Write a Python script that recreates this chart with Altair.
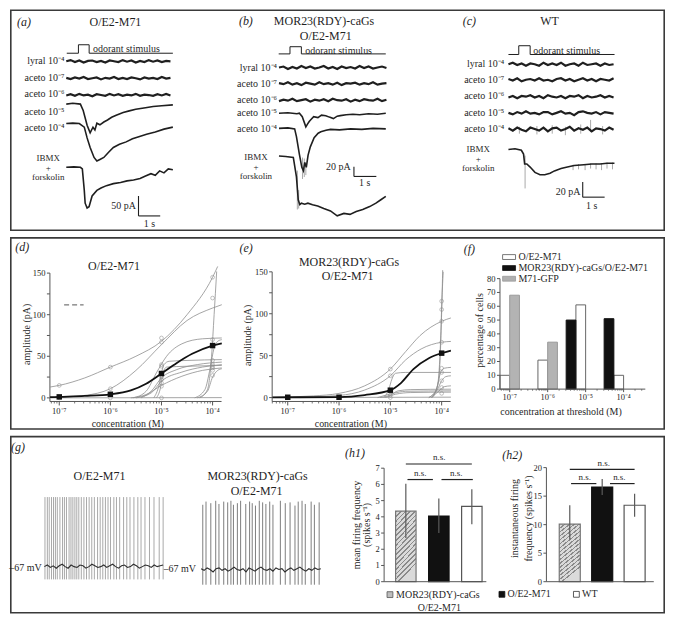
import math
import altair as alt
import pandas as pd

FONT = "Liberation Serif"
INK = "#1f1f1f"
CURVE = "#8e8e8e"
AXC = "#555555"
TICK_FONT = 8.5

# ---------------- values ----------------
TRACE_LABELS = ["lyral 10⁻⁴", "aceto 10⁻⁷", "aceto 10⁻⁶", "aceto 10⁻⁵", "aceto 10⁻⁴"]
DECADES = [-7, -6, -5, -4]
DECADE_LABELS = ["10⁻⁷", "10⁻⁶", "10⁻⁵", "10⁻⁴"]
AMP_TICKS = [0, 25, 50, 75, 100, 125, 150]
AMP_LABELS = [0, 50, 100, 150]

FLAT_T = [0.0, 0.2, 0.4, 0.6, 0.8, 1.0, 1.2, 1.4, 1.6, 1.8, 2.0, 2.2, 2.4, 2.6,
          2.8, 3.0, 3.2, 3.4, 3.6, 3.8, 4.0, 4.2, 4.4, 4.6, 4.8]
A_LYRAL = [0, 3, -2, 2, -3, 1, 2, -2, 1, -3, 2, 0, -2, 3, -1, 2, -3, 1, -2, 3, -1, 2, -2, 1, 0]
A_ACETO7 = [1, -2, 2, -1, 3, -2, 0, 2, -3, 1, -1, 3, -2, 1, -2, 2, 0, -3, 2, -1, 1, -2, 3, -1, 1]
A_ACETO6 = [-1, 2, -2, 3, -1, 1, -3, 2, 0, -2, 3, -1, 2, -2, 1, -1, 3, -2, 1, 0, -2, 2, -1, 3, -1]
A_R5_T = [0, 0.3, 0.65, 0.78, 0.96, 1.1, 1.23, 1.32, 1.41, 1.55, 1.73, 1.9, 2.09, 2.3, 2.62, 2.9, 3.2, 3.65, 4.0, 4.4, 4.91]
A_R5_V = [0, 2, 0, -16, -53, -72, -58, -65, -48, -52, -45, -40, -33, -28, -21, -17, -13, -9, -6, -4, -2]
A_R4_T = [0, 0.3, 0.6, 0.83, 0.96, 1.1, 1.28, 1.41, 1.55, 1.73, 1.95, 2.17, 2.45, 2.76, 3.05, 3.34, 3.7, 4.1, 4.5, 4.91]
A_R4_V = [0, 1, 0, -9, -36, -60, -85, -94, -90, -85, -72, -60, -52, -46, -38, -33, -27, -21, -14, -9]
A_IB_T = [0, 0.35, 0.65, 0.74, 0.83, 0.87, 0.96, 1.05, 1.19, 1.41, 1.6, 1.85, 2.17, 2.5, 2.8, 3.1, 3.4, 3.65, 3.9, 4.1, 4.3, 4.5, 4.7, 4.91]
A_IB_V = [0, 1, 0, -4, -58, -90, -102, -99, -72, -58, -52, -46, -41, -38, -34, -32, -28, -22, -16, -20, -9, -14, -4, -6]
B_LYRAL = [0, 2, -3, 1, -2, 3, -1, 2, -2, 0, 3, -2, 1, -3, 2, -1, 1, -2, 3, -1, 2, -2, 0, 2, -1]
B_ACETO7 = [1, -1, 3, -2, 1, -3, 2, 0, -2, 3, -1, 1, -2, 2, -3, 1, 0, 2, -2, 1, -1, 3, -2, 0, 1]
B_ACETO6 = [-2, 1, -1, 3, -2, 0, 2, -3, 1, -1, 2, -2, 3, 0, -1, 2, -3, 1, -2, 2, 0, -1, 3, -2, 1]
B_R5_T = [0, 0.4, 0.8, 0.91, 1.04, 1.2, 1.28, 1.35, 1.45, 1.55, 1.74, 1.9, 2.09, 2.25, 2.43, 2.6, 2.74, 3.0, 3.3, 3.6, 4.0, 4.4, 4.77]
B_R5_V = [0, 1, -1, 0, -7, -28, -22, -17, -12, -7, -9, -4, -5, -8, -11, -6, -5, -3, -2, -3, -1, -2, 0]
B_R4_T = [0, 0.4, 0.7, 0.78, 0.91, 1.02, 1.09, 1.15, 1.22, 1.3, 1.4, 1.57, 1.75, 1.87, 2.1, 2.3, 2.7, 3.2, 3.7, 4.2, 4.77]
B_R4_V = [0, 1, -1, -17, -53, -80, -87, -70, -80, -55, -38, -19, -10, -7, -4, -2, -3, -1, -2, 0, -1]
B_IB_T = [0, 0.3, 0.64, 0.78, 0.86, 0.93, 1.0, 1.15, 1.29, 1.5, 1.73, 2.0, 2.3, 2.6, 2.9, 3.17, 3.45, 3.74, 4.05, 4.33, 4.55, 4.77]
B_IB_V = [0, -1, -3, -43, -90, -100, -97, -99, -97, -100, -103, -108, -113, -123, -118, -120, -114, -110, -104, -97, -90, -83]
C_LYRAL = [0, 2, -1, 1, -2, 1, 0, -2, 2, -1, 1, -1, 2, -2, 0, 1, -2, 2, -1, 0, 1, -2, 1, -1, 0]
C_ACETO7 = [1, -1, 2, -2, 0, 1, -1, 2, -1, 0, -2, 1, 2, -1, 1, -2, 0, 2, -1, 1, -2, 1, 0, -1, 2]
C_ACETO6 = [-1, 1, -2, 1, 0, 2, -1, 1, -2, 2, 0, -1, 1, -2, 1, 0, 2, -2, 1, -1, 0, 2, -1, 1, -1]
C_ACETO5 = [0, -2, 1, -1, 2, -1, 0, -2, 1, 1, -2, 0, 2, -1, 0, -3, 1, 2, 0, -1, 1, -2, 1, 0, -1]
C_ACETO4 = [1, -2, 2, -1, -3, 2, 0, -2, 2, -3, 1, 2, -2, 0, 3, -2, 1, -1, 2, -3, 1, 0, -2, 2, -1]
C_IB_T = [0, 0.3, 0.59, 0.69, 0.74, 0.84, 0.99, 1.21, 1.44, 1.66, 1.9, 2.1, 2.4, 2.69, 3.0, 3.44, 3.8, 4.18, 4.5, 4.84]
C_IB_V = [0, 1, -1, -6, -19, -19, -23, -30, -33, -33, -31, -28, -25, -23, -21, -20, -19, -19, -18, -18]

D_FITS = [
    [(-7.18, 13), (-7.0, 15), (-6.5, 24), (-6.0, 37), (-5.5, 50), (-5.0, 68), (-4.5, 100), (-4.0, 145), (-3.9, 158)],
    [(-7.18, 0.3), (-6.5, 3), (-6.0, 11), (-5.5, 33), (-5.0, 64), (-4.5, 93), (-4.0, 108), (-3.82, 112)],
    [(-5.55, 0), (-5.3, 8), (-5.1, 30), (-4.9, 50), (-4.6, 65), (-4.2, 71), (-3.82, 72)],
    [(-5.15, 0), (-5.05, 15), (-5.0, 30), (-4.95, 40), (-4.85, 44), (-4.5, 45), (-3.82, 46)],
    [(-5.4, 0), (-5.2, 8), (-5.0, 24), (-4.7, 34), (-4.3, 40), (-3.82, 43)],
    [(-5.5, 0), (-5.2, 6), (-5.0, 20), (-4.6, 31), (-4.2, 37), (-3.82, 40)],
    [(-5.6, 0), (-5.3, 4), (-5.0, 15), (-4.6, 26), (-4.2, 33), (-3.82, 36)],
    [(-5.1, 0), (-5.02, 12), (-4.97, 30), (-4.9, 37), (-4.5, 38), (-3.82, 39)],
    [(-4.25, 0), (-4.1, 10), (-4.02, 50), (-3.97, 100), (-3.92, 152)],
    [(-4.35, 0), (-4.15, 10), (-4.05, 35), (-3.97, 60), (-3.9, 68), (-3.82, 70)],
    [(-4.3, 0), (-4.1, 8), (-4.0, 25), (-3.9, 33), (-3.82, 35)],
    [(-7.18, 0), (-3.82, 0.3)],
]
D_MARK_X = [-7, -7, -6, -6, -6, -5, -5, -5, -5, -5, -5, -5, -5, -5, -4, -4, -4, -4, -4, -4, -4, -4, -4]
D_MARK_Y = [15, 0, 37, 11, 0, 72, 67, 40, 38, 25, 22, 18, 14, 0, 145, 120, 70, 45, 40, 38, 36, 33, 27]
D_MEAN_Y = [1.2, 4.3, 29.3, 62.9]
D_MEAN_FIT = [(-7.18, 0.8), (-7.0, 1.2), (-6.5, 2.3), (-6.0, 4.3), (-5.6, 9), (-5.3, 17), (-5.0, 29.3),
              (-4.7, 42), (-4.4, 53), (-4.0, 62.9), (-3.82, 65.6)]
E_FITS = [
    [(-7.3, 0.3), (-6.5, 2), (-6.0, 5), (-5.5, 14), (-5.0, 34), (-4.7, 55), (-4.42, 74), (-4.0, 91), (-3.82, 95)],
    [(-7.3, 0.2), (-6.5, 1), (-6.0, 2.5), (-5.5, 9), (-5.0, 26), (-4.7, 45), (-4.4, 58), (-4.0, 66), (-3.82, 67)],
    [(-5.12, 0), (-5.03, 10), (-4.97, 22), (-4.9, 29), (-4.7, 30), (-3.82, 30)],
    [(-5.2, 0), (-5.0, 3), (-4.85, 8), (-4.6, 9.5), (-3.82, 10)],
    [(-5.25, 0), (-4.95, 5), (-4.7, 7.5), (-3.82, 8)],
    [(-5.1, 0), (-4.9, 4), (-4.6, 6), (-3.82, 6.5)],
    [(-4.18, 0), (-4.06, 20), (-4.01, 80), (-3.98, 152)],
    [(-4.2, 0), (-4.08, 15), (-4.02, 70), (-4.0, 108), (-3.97, 150)],
    [(-4.25, 0), (-4.1, 10), (-4.02, 30), (-3.95, 35), (-3.82, 36)],
    [(-4.25, 0), (-4.08, 10), (-4.0, 20), (-3.92, 25), (-3.82, 26)],
    [(-4.2, 0), (-4.05, 8), (-3.95, 13), (-3.82, 14)],
    [(-7.3, 0), (-3.82, 0.5)],
]
E_MARK_X = [-5, -5, -5, -5, -5, -4, -4, -4, -4, -4, -4, -4, -4, -4]
E_MARK_Y = [34, 26, 8, 3, 0, 115, 105, 91, 66, 35, 30, 20, 12, 5]
E_MEAN_Y = [0.4, 0.4, 8.8, 53]
E_MEAN_FIT = [(-7.3, 0.3), (-6.0, 0.6), (-5.5, 3), (-5.0, 8.8), (-4.8, 17), (-4.55, 34), (-4.25, 47),
              (-4.0, 53), (-3.82, 56)]
F_SERIES = ["O/E2-M71", "MOR23(RDY)-caGs/O/E2-M71", "M71-GFP"]
F_WHITE = [10, 21, 61, 10]
F_BLACK = [0, 0, 50, 51]
F_GRAY = [68, 34, 0, 0]
F_TICKS = [0, 10, 20, 30, 40, 50, 60, 70, 80]
G1_SPIKES = [0.05, 0.25, 0.41, 0.60, 0.77, 0.93, 1.09, 1.31, 1.53, 1.69, 1.86, 2.08, 2.24, 2.40, 2.57,
             2.73, 2.90, 3.11, 3.33, 3.55, 3.77, 3.99, 4.21, 4.48, 4.70, 4.92, 5.14, 5.36, 5.57, 5.85,
             6.07, 6.34, 6.67, 6.94, 7.21, 7.54, 7.87, 8.14, 8.47, 8.85, 9.23, 9.67, 10.0]
G1_PEAK, G1_TROUGH = 20, -83
G2_SPIKES = [0.14, 0.41, 0.81, 1.22, 1.49, 1.89, 2.22, 2.49, 2.70, 3.03, 3.30, 3.73, 4.05, 4.27, 4.54,
             4.86, 5.14, 5.41, 5.73, 6.00, 6.62, 7.03, 7.43, 7.84, 8.11, 8.43, 8.70, 9.19, 9.46, 9.86]
G2_PEAKS = [14, 18, 16, 19, 15, 18, 17, 19, 14, 16, 19, 15, 18, 16, 13, 19, 17, 15, 18, 14, 19, 16, 17,
            13, 18, 19, 15, 18, 14, 17]
G2_TROUGH = -86
G_BASE_T = [i * 0.25 for i in range(41)]
G1_BASE = [-67, -65, -68, -66, -69, -66, -64, -67, -69, -65, -67, -68, -65, -66, -69, -67, -64, -66, -68,
           -67, -65, -68, -66, -64, -67, -69, -66, -65, -68, -67, -64, -66, -69, -67, -65, -66, -68, -65,
           -67, -66, -65]
G2_BASE = [-66, -68, -65, -67, -70, -66, -65, -68, -66, -69, -67, -64, -67, -68, -66, -70, -65, -67, -69,
           -66, -64, -67, -68, -66, -69, -65, -67, -66, -70, -67, -65, -68, -66, -64, -67, -69, -66, -68,
           -65, -67, -66]
H_GROUPS = ["MOR23(RDY)-caGs O/E2-M71", "O/E2-M71", "WT"]
H1_MEAN = [4.35, 4.05, 4.65]
H1_LO = [2.7, 3.0, 3.55]
H1_HI = [6.04, 5.13, 5.7]
H1_TICKS = [0, 1, 2, 3, 4, 5, 6, 7]
H2_MEAN = [10.1, 16.6, 13.4]
H2_LO = [7.4, 15.2, 11.4]
H2_HI = [13.4, 18.0, 15.4]
H2_TICKS = [0, 5, 10, 15, 20]

# ---------------- layout helpers ----------------
SX, SY = 0.975, 0.974
W = 656
ROW_H = [222, 193, 178]
ROW_TOP = [1.0, 233.0, 435.0]


def X(xr):
    return (xr - 0.7) * SX


def Y(yr, row):
    return (yr - ROW_TOP[row]) * SY


def one():
    return pd.DataFrame({"_": [0]})


def text(txt, xr, yr, row, x0, size=10, align="center", style="normal", angle=0, color=INK):
    props = dict(font=FONT, fontSize=size, align=align, baseline="middle", color=color)
    if style != "normal":
        props["fontStyle"] = style
    if angle:
        props["angle"] = angle
    return alt.Chart(pd.DataFrame({"t": [txt]})).mark_text(**props).encode(
        x=alt.value(X(xr) - x0), y=alt.value(Y(yr, row)), text="t:N")


def box(row):
    H = ROW_H[row]
    return alt.Chart(one()).mark_rect(filled=False, stroke="#3a3a3a", strokeWidth=1.6).encode(
        x=alt.value(0.8), x2=alt.value(W - 0.8), y=alt.value(0.8), y2=alt.value(H - 0.8))


def swatch(xr0, yr0, xr1, yr1, row, x0, fill, stroke):
    return alt.Chart(one()).mark_rect(fill=fill, stroke=stroke, strokeWidth=0.8).encode(
        x=alt.value(X(xr0) - x0), x2=alt.value(X(xr1) - x0),
        y=alt.value(Y(yr0, row)), y2=alt.value(Y(yr1, row)))


def axes(xs, ys, xlo, xhi, ylo, yhi, pxw, pxh, xticks=(), xlabels=(), yticks=(), ylabel_vals=(),
         xtick=4.0, ytick=3.0, xlab_dy=9.5, minor=(), minor_len=2.0):
    """Axis lines, ticks and tick labels drawn through the panel's own scales."""
    ux = (xhi - xlo) / pxw
    uy = (yhi - ylo) / pxh
    ex = lambda f: alt.X(f, scale=xs, axis=None)
    ey = lambda f: alt.Y(f, scale=ys, axis=None)
    L = [
        alt.Chart(pd.DataFrame({"a": [xlo], "b": [xhi], "y": [ylo]})).mark_rule(color=AXC, strokeWidth=1).encode(
            x=ex("a:Q"), x2="b:Q", y=ey("y:Q")),
        alt.Chart(pd.DataFrame({"x": [xlo], "a": [ylo], "b": [yhi]})).mark_rule(color=AXC, strokeWidth=1).encode(
            x=ex("x:Q"), y=ey("a:Q"), y2="b:Q"),
    ]
    if len(xticks):
        xt = pd.DataFrame({"x": list(xticks), "a": [ylo] * len(xticks), "b": [ylo - xtick * uy] * len(xticks)})
        L.append(alt.Chart(xt).mark_rule(color=AXC, strokeWidth=1).encode(x=ex("x:Q"), y=ey("a:Q"), y2="b:Q"))
        xl = pd.DataFrame({"x": list(xticks), "y": [ylo] * len(xticks), "t": list(xlabels)})
        L.append(alt.Chart(xl).mark_text(font=FONT, fontSize=TICK_FONT, baseline="middle", dy=xlab_dy,
                                         color="#222").encode(x=ex("x:Q"), y=ey("y:Q"), text="t:N"))
    if len(minor):
        mt = pd.DataFrame({"x": list(minor), "a": [ylo] * len(minor), "b": [ylo - minor_len * uy] * len(minor)})
        L.append(alt.Chart(mt).mark_rule(color=AXC, strokeWidth=0.8).encode(x=ex("x:Q"), y=ey("a:Q"), y2="b:Q"))
    if len(yticks):
        yt = pd.DataFrame({"y": list(yticks), "a": [xlo] * len(yticks), "b": [xlo - ytick * ux] * len(yticks)})
        L.append(alt.Chart(yt).mark_rule(color=AXC, strokeWidth=1).encode(x=ex("a:Q"), x2="b:Q", y=ey("y:Q")))
        yl = pd.DataFrame({"y": list(ylabel_vals), "x": [xlo] * len(ylabel_vals),
                           "t": [str(v) for v in ylabel_vals]})
        L.append(alt.Chart(yl).mark_text(font=FONT, fontSize=TICK_FONT, align="right", baseline="middle",
                                         dx=-(ytick + 1.5), color="#222").encode(
            x=ex("x:Q"), y=ey("y:Q"), text="t:N"))
    return L


# ---------------- row 1: current traces ----------------
def trace_panel(x0, w, start, pxps, papx, flat, resp, grays, stim, sbar, texts, with_box=False):
    H = ROW_H[0]
    kx, ky = pxps * SX, papx * SY
    gx0 = X(start)
    tv = lambda xr: (X(xr) - gx0) / kx
    vv = lambda yr: -Y(yr, 0) / ky
    xs = alt.Scale(domain=[(x0 - gx0) / kx, (x0 + w - gx0) / kx], nice=False, zero=False)
    ys = alt.Scale(domain=[-H / ky, 0], nice=False, zero=False)
    ex = alt.X("t:Q", scale=xs, axis=None)
    ey = alt.Y("v:Q", scale=ys, axis=None)
    layers = [box(0)] if with_box else []
    xa, xon, xoff, xe, yb, yt = stim
    st = pd.DataFrame({"i": list(range(6)),
                       "t": [tv(xa), tv(xon), tv(xon), tv(xoff), tv(xoff), tv(xe)],
                       "v": [vv(yb), vv(yb), vv(yt), vv(yt), vv(yb), vv(yb)]})
    layers.append(alt.Chart(st).mark_line(color=INK, strokeWidth=1.0).encode(x=ex, y=ey, order="i:Q"))
    if grays:
        g = pd.DataFrame([{"t": t, "v": a + vv(b), "v2": c + vv(b)} for t, a, c, b in grays])
        layers.append(alt.Chart(g).mark_rule(color="#a0a0a0", strokeWidth=0.9).encode(x=ex, y=ey, y2="v2:Q"))
    rows = []
    for k, (T, V, base) in enumerate(flat):
        rows += [{"k": k, "i": i, "t": t, "v": v + vv(base)} for i, (t, v) in enumerate(zip(T, V))]
    layers.append(alt.Chart(pd.DataFrame(rows)).mark_line(color=INK, strokeWidth=2.2).encode(
        x=ex, y=ey, detail="k:N", order="i:Q"))
    rows = []
    for k, (T, V, base) in enumerate(resp):
        rows += [{"k": k, "i": i, "t": t, "v": v + vv(base)} for i, (t, v) in enumerate(zip(T, V))]
    layers.append(alt.Chart(pd.DataFrame(rows)).mark_line(color=INK, strokeWidth=1.6).encode(
        x=ex, y=ey, detail="k:N", order="i:Q"))
    bx, by, bpa = sbar
    sb = pd.DataFrame({"t": [tv(bx), tv(bx)], "t2": [tv(bx), tv(bx) + 1.0],
                       "v": [vv(by), vv(by)], "v2": [vv(by) + bpa, vv(by)]})
    layers.append(alt.Chart(sb).mark_rule(color=INK, strokeWidth=1.1).encode(x=ex, x2="t2:Q", y=ey, y2="v2:Q"))
    for tx in texts:
        layers.append(text(tx[0], tx[1], tx[2], 0, x0, *tx[3:]))
    return alt.layer(*layers).properties(width=w, height=H)


def trace_texts(lab_x, lab_ys, ib_x, ib_ys):
    out = [(lab, lab_x, y, 10, "right") for lab, y in zip(TRACE_LABELS, lab_ys)]
    out += [(s, ib_x, y, 9) for s, y in zip(["IBMX", "+", "forskolin"], ib_ys)]
    return out


A = trace_panel(
    0, 219, 58.5, 22.3, 0.41,
    flat=[(FLAT_T, A_LYRAL, 54.3), (FLAT_T, A_ACETO7, 71.7), (FLAT_T, A_ACETO6, 89.0)],
    resp=[(A_R5_T, A_R5_V, 98.3), (A_R4_T, A_R4_V, 118.3), (A_IB_T, A_IB_V, 163.3)],
    grays=[],
    stim=(59, 71, 82, 168, 46, 37.3), sbar=(132.7, 213.3, 50),
    texts=[("(a)", 15, 14, 12, "center", "italic"), ("O/E2-M71", 109, 14, 12),
           ("odorant stimulus", 86, 41.7, 10, "left"), ("50 pA", 130, 203, 10, "right"),
           ("1 s", 144, 221.5, 10)]
    + trace_texts(56.7, [54.3, 71.7, 88.3, 106, 122.7], 40, [154, 163.6, 173.2]),
    with_box=True)

B = trace_panel(
    219, 209, 277, 23, 0.5,
    flat=[(FLAT_T, B_LYRAL, 60.7), (FLAT_T, B_ACETO7, 77.3), (FLAT_T, B_ACETO6, 94.3)],
    resp=[(B_R5_T, B_R5_V, 107.7), (B_R4_T, B_R4_V, 123.3), (B_IB_T, B_IB_V, 151.7)],
    grays=[(1.05, -60, -104, 123.3), (1.13, -62, -100, 123.3), (1.2, -70, -96, 123.3),
           (0.82, -30, -110, 151.7), (0.88, -70, -108, 151.7)],
    stim=(276.7, 288.3, 300, 386.7, 46.7, 39.3), sbar=(354, 172.7, 20),
    texts=[("(b)", 243, 13.3, 12, "center", "italic"), ("MOR23(RDY)-caGs", 323.3, 13.3, 12),
           ("O/E2-M71", 325, 28.3, 12), ("odorant stimulus", 304, 43.3, 10, "left"),
           ("20 pA", 350.7, 163.3, 10, "right"), ("1 s", 365, 179, 10)]
    + trace_texts(275, [60.7, 77.3, 94.3, 107.7, 124], 253.3, [153.2, 162.8, 172.4]))

C = trace_panel(
    428, 228, 512.7, 22.5, 0.785,
    flat=[(FLAT_T, C_LYRAL, 57.3), (FLAT_T, C_ACETO7, 73.3), (FLAT_T, C_ACETO6, 90.7),
          (FLAT_T, C_ACETO5, 107.3), (FLAT_T, C_ACETO4, 124)],
    resp=[(C_IB_T, C_IB_V, 145)],
    grays=[(0.76, -8, -51, 145), (2.95, -20, -27, 145), (3.2, -19, -26, 145), (3.5, -19, -27, 145),
           (3.75, -18, -25, 145), (4.0, -18, -26, 145), (4.25, -18, -27, 145), (4.5, -17, -25, 145),
           (4.75, -17, -26, 145), (0.5, 3, -6, 124), (1.3, 4, -7, 124), (2.0, 5, -6, 124),
           (2.6, 3, -8, 124), (3.3, 6, -6, 124), (3.75, 12, -4, 124), (4.3, 4, -7, 124)],
    stim=(512.7, 523.3, 535, 621.7, 47.3, 38.3), sbar=(589, 194, 20),
    texts=[("(c)", 472.5, 13.3, 12, "center", "italic"), ("WT", 555, 13.3, 12),
           ("odorant stimulus", 538.3, 43.3, 10, "left"), ("20 pA", 586.7, 188.3, 10, "right"),
           ("1 s", 598.3, 203.3, 10)]
    + trace_texts(508.3, [57.3, 73.3, 90, 107.3, 124], 481.7, [145, 154.6, 164.2]))


# ---------------- row 2: dose-response and threshold ----------------
def dose_panel(x0, w, ax_ref, xend_ref, m7_ref, dec_px, y0_ref, y150_ref, xax_ref, fits, mkx, mky,
               mean_y, mean_fit, xtitle_at, ytitle_at, texts, with_box=False, dash=None):
    row, H = 1, ROW_H[1]
    lg = lambda xr: -7 + (xr - m7_ref) / dec_px
    ppa = (y0_ref - y150_ref) / 150.0
    ybot = -(xax_ref - y0_ref) / ppa
    xlo, xhi = lg(ax_ref), lg(xend_ref)
    pl, pr, pb, pt = X(ax_ref) - x0, X(xend_ref) - x0, Y(xax_ref, row), Y(y150_ref, row)
    xs = alt.Scale(domain=[xlo, xhi], range=[pl, pr], nice=False, zero=False)
    ys = alt.Scale(domain=[ybot, 150], range=[pb, pt], nice=False, zero=False)
    ex = lambda f: alt.X(f, scale=xs, axis=None)
    ey = lambda f: alt.Y(f, scale=ys, axis=None)
    layers = [box(1)] if with_box else []
    minor = [e + math.log10(m) for e in range(-8, -3) for m in range(2, 10)]
    minor = [p for p in minor if xlo < p < xhi]
    layers += axes(xs, ys, xlo, xhi, ybot, 150, pr - pl, pb - pt, DECADES, DECADE_LABELS, AMP_TICKS,
                   AMP_LABELS, xtick=4, ytick=3, xlab_dy=9.5, minor=minor)
    rows = []
    for k, pts in enumerate(fits):
        rows += [{"k": k, "i": i, "x": a, "y": b} for i, (a, b) in enumerate(pts)]
    layers.append(alt.Chart(pd.DataFrame(rows)).mark_line(color=CURVE, strokeWidth=0.8, interpolate="monotone").encode(
        x=ex("x:Q"), y=ey("y:Q"), detail="k:N", order="i:Q"))
    layers.append(alt.Chart(pd.DataFrame({"x": mkx, "y": mky})).mark_point(
        shape="circle", size=14, filled=False, color=CURVE, strokeWidth=0.8).encode(x=ex("x:Q"), y=ey("y:Q")))
    mf = pd.DataFrame({"x": [p[0] for p in mean_fit], "y": [p[1] for p in mean_fit]})
    layers.append(alt.Chart(mf).mark_line(color="#111", strokeWidth=1.8, interpolate="monotone").encode(
        x=ex("x:Q"), y=ey("y:Q")))
    layers.append(alt.Chart(pd.DataFrame({"x": DECADES, "y": mean_y})).mark_square(
        size=30, color="#111", opacity=1).encode(x=ex("x:Q"), y=ey("y:Q")))
    if dash:
        layers.append(alt.Chart(one()).mark_rule(color="#555", strokeWidth=1, strokeDash=[5, 3]).encode(
            x=alt.value(X(dash[0]) - x0), x2=alt.value(X(dash[1]) - x0), y=alt.value(Y(dash[2], row))))
    layers.append(text("concentration (M)", xtitle_at[0], xtitle_at[1], row, x0, 10))
    layers.append(text("amplitude (pA)", ytitle_at[0], ytitle_at[1], row, x0, 10, "center", "normal", 270))
    for tx in texts:
        layers.append(text(tx[0], tx[1], tx[2], row, x0, *tx[3:]))
    return alt.layer(*layers).properties(width=w, height=H)


D = dose_panel(0, 231, 41.7, 218, 51.3, 52.5, 398.3, 270, 402, D_FITS, D_MARK_X, D_MARK_Y, D_MEAN_Y,
               D_MEAN_FIT, (121.7, 425), (18.5, 333),
               [("(d)", 13.3, 243.5, 12, "center", "italic"), ("O/E2-M71", 107.5, 262.3, 12)],
               with_box=True, dash=(56.3, 76.3, 302.7))
E = dose_panel(231, 219, 270, 453.3, 286, 52.7, 398, 268.7, 402, E_FITS, E_MARK_X, E_MARK_Y, E_MEAN_Y,
               E_MEAN_FIT, (350.8, 425), (245, 334),
               [("(e)", 243.3, 244, 12, "center", "italic"), ("MOR23(RDY)-caGs", 349, 258.3, 12),
                ("O/E2-M71", 347.5, 273.3, 12)])


def f_panel():
    x0, w, row, H = 450, 206, 1, ROW_H[1]
    ax_ref, xend_ref, t0_ref, step = 504.0, 653.3, 514.0, 39.0
    ix = lambda xr: (xr - t0_ref) / step
    xlo, xhi = ix(ax_ref), ix(xend_ref)
    pl, pr, pb, pt = X(ax_ref) - x0, X(xend_ref) - x0, Y(389.3, row), Y(275.7, row)
    xs = alt.Scale(domain=[xlo, xhi], range=[pl, pr], nice=False, zero=False)
    ys = alt.Scale(domain=[0, 80], range=[pb, pt], nice=False, zero=False)
    ex = lambda f: alt.X(f, scale=xs, axis=None)
    ey = lambda f: alt.Y(f, scale=ys, axis=None)
    slots = {"black": (-20, -10), "white": (-10, 0), "gray": (0, 10)}
    layers = []
    for vals, slot, fill, stroke in [(F_WHITE, "white", "#ffffff", "#666"), (F_BLACK, "black", "#111", "#111"),
                                     (F_GRAY, "gray", "#b3b3b3", "#9a9a9a")]:
        lo, hi = slots[slot]
        df = pd.DataFrame({"x": [i + lo / step for i in range(4)], "x2": [i + hi / step for i in range(4)],
                           "y": vals, "z": [0] * 4})
        df = df[df.y > 0]
        layers.append(alt.Chart(df).mark_bar(fill=fill, stroke=stroke, strokeWidth=1).encode(
            x=ex("x:Q"), x2="x2:Q", y=ey("y:Q"), y2="z:Q"))
    minor = [e + math.log10(m) for e in range(-1, 4) for m in range(2, 10)]
    minor = [p for p in minor if xlo < p < xhi]
    layers += axes(xs, ys, xlo, xhi, 0, 80, pr - pl, pb - pt, [0, 1, 2, 3], DECADE_LABELS, F_TICKS, F_TICKS,
                   xtick=3, ytick=3, xlab_dy=7.5, minor=minor, minor_len=1.6)
    layers.append(text("concentration at threshold (M)", 566.7, 413.3, row, x0, 10))
    layers.append(text("percentage of cells", 484, 329, row, x0, 10, "center", "normal", 270))
    layers.append(text("(f)", 472.5, 245, row, x0, 12, "center", "italic"))
    for (fill, stroke), y0r, lab in zip([("#ffffff", "#555"), ("#111", "#111"), ("#b0b0b0", "#999")],
                                        [251, 262.3, 273.3], F_SERIES):
        layers.append(swatch(506.7, y0r, 520, y0r + 5, row, x0, fill, stroke))
        layers.append(text(lab, 523, y0r + 2.5, row, x0, 10, "left"))
    return alt.layer(*layers).properties(width=w, height=H)


F = f_panel()


# ---------------- row 3: spikes and firing frequency ----------------
def g_panel():
    x0, w, row, H = 0, 326, 2, ROW_H[2]
    layers = [box(2)]
    for tx in [("(g)", 9, 446.7, 12, "center", "italic"), ("O/E2-M71", 92.7, 476.7, 12),
               ("MOR23(RDY)-caGs", 255, 476.7, 12), ("O/E2-M71", 254, 491.7, 12),
               ("–67 mV", 33.3, 571, 10, "right"), ("–67 mV", 191.7, 572, 10, "right")]:
        layers.append(text(tx[0], tx[1], tx[2], row, x0, *tx[3:]))
    groups = []
    for start, pxps, base_ref, spikes, peaks, trough, bv, col in [
            (36, 12.2, 569.5, G1_SPIKES, [G1_PEAK] * len(G1_SPIKES), G1_TROUGH, G1_BASE, "#a9a9a9"),
            (197, 12.3, 572.5, G2_SPIKES, G2_PEAKS, G2_TROUGH, G2_BASE, "#7d7d7d")]:
        kx, ky = pxps * SX, 0.822 * SY
        gx0 = X(start)
        yb = Y(base_ref, row)
        xs = alt.Scale(domain=[(x0 - gx0) / kx, (x0 + w - gx0) / kx], nice=False, zero=False)
        ys = alt.Scale(domain=[-67 - (H - yb) / ky, -67 + yb / ky], nice=False, zero=False)
        sp = pd.DataFrame({"t": spikes, "top": peaks, "bot": [trough] * len(spikes)})
        r = alt.Chart(sp).mark_rule(color=col, strokeWidth=1.0).encode(
            x=alt.X("t:Q", scale=xs, axis=None), y=alt.Y("top:Q", scale=ys, axis=None), y2="bot:Q")
        bl = alt.Chart(pd.DataFrame({"t": G_BASE_T, "v": bv})).mark_line(color="#2e2e2e", strokeWidth=1.1).encode(
            x=alt.X("t:Q", scale=xs, axis=None), y=alt.Y("v:Q", scale=ys, axis=None))
        groups.append(alt.layer(r, bl))
    return alt.layer(*layers, *groups).resolve_scale(x="independent", y="independent").properties(width=w, height=H)


def hatch():
    stops = []
    n = 16
    for i in range(n):
        a, b, c = i / n, (i + 0.35) / n, (i + 1) / n
        stops += [alt.GradientStop(offset=a, color="#8a8a8a"), alt.GradientStop(offset=b, color="#8a8a8a"),
                  alt.GradientStop(offset=b, color="#dadada"), alt.GradientStop(offset=c, color="#dadada")]
    return alt.LinearGradient(gradient="linear", stops=stops, x1=0, y1=0, x2=0.3, y2=1)


def h_panel(x0, w, ax_ref, xend_ref, c0_ref, step_ref, y0_ref, ytop_ref, ymax, yvals, means, los, his,
            halfw_ref, brackets, ns, ytitles, texts, swatches):
    row, H = 2, ROW_H[2]
    ix = lambda xr: (xr - c0_ref) / step_ref
    xlo, xhi = ix(ax_ref), ix(xend_ref)
    pl, pr, pb, pt = X(ax_ref) - x0, X(xend_ref) - x0, Y(y0_ref, row), Y(ytop_ref, row)
    xs = alt.Scale(domain=[xlo, xhi], range=[pl, pr], nice=False, zero=False)
    ys = alt.Scale(domain=[0, ymax], range=[pb, pt], nice=False, zero=False)
    ex = lambda f: alt.X(f, scale=xs, axis=None)
    ey = lambda f: alt.Y(f, scale=ys, axis=None)
    hw = halfw_ref / step_ref
    df = pd.DataFrame({"pos": [0, 1, 2], "val": means, "lo": los, "hi": his, "z": [0, 0, 0]})
    df["x1"] = df.pos - hw
    df["x2"] = df.pos + hw
    layers = []
    for k, (fill, stroke) in enumerate([(hatch(), "#777"), ("#111", "#111"), ("#ffffff", "#555")]):
        layers.append(alt.Chart(df.iloc[[k]]).mark_bar(fill=fill, stroke=stroke, strokeWidth=1.2).encode(
            x=ex("x1:Q"), x2="x2:Q", y=ey("val:Q"), y2="z:Q"))
    layers += axes(xs, ys, xlo, xhi, 0, ymax, pr - pl, pb - pt, yticks=yvals, ylabel_vals=yvals, ytick=3)
    layers.append(alt.Chart(df).mark_rule(color="#5a5a5a", strokeWidth=1.2).encode(
        x=ex("pos:Q"), y=ey("lo:Q"), y2="hi:Q"))
    br = pd.DataFrame({"a": [b[0] for b in brackets], "b": [b[1] for b in brackets], "y": [b[2] for b in brackets]})
    layers.append(alt.Chart(br).mark_rule(color="#222", strokeWidth=1.2).encode(x=ex("a:Q"), x2="b:Q", y=ey("y:Q")))
    nd = pd.DataFrame({"x": [n[0] for n in ns], "y": [n[1] for n in ns], "t": ["n.s."] * len(ns)})
    layers.append(alt.Chart(nd).mark_text(font=FONT, fontSize=9, baseline="bottom", dy=-1.5, color=INK).encode(
        x=ex("x:Q"), y=ey("y:Q"), text="t:N"))
    for t, xr, yr in ytitles:
        layers.append(text(t, xr, yr, row, x0, 10, "center", "normal", 270))
    for sw in swatches:
        layers.append(swatch(*sw[:4], row, x0, sw[4], sw[5]))
    for tx in texts:
        layers.append(text(tx[0], tx[1], tx[2], row, x0, *tx[3:]))
    return alt.layer(*layers).properties(width=w, height=H)


G = g_panel()
H1 = h_panel(326, 159, 385, 490, 407.3, 33.9, 585, 468.3, 7, H1_TICKS, H1_MEAN, H1_LO, H1_HI, 10.5,
             [(0, 2, 7.26), (0.05, 0.82, 6.3), (1.08, 2.03, 6.3)], [(1.01, 7.26), (0.44, 6.3), (1.53, 6.3)],
             [("mean firing frequency", 357.3, 526.7), ("(spikes s⁻¹)", 367, 526.7)],
             [("(h1)", 355, 452.7, 12, "center", "italic"), ("MOR23(RDY)-caGs", 397.3, 598.3, 10, "left"),
              ("O/E2-M71", 441.7, 611.7, 10)],
             [(388, 595.3, 394, 601.3, "#bdbdbd", "#555")])
H2 = h_panel(485, 171, 551.7, 662, 575.7, 33.3, 585, 467.7, 20, H2_TICKS, H2_MEAN, H2_LO, H2_HI, 10.8,
             [(0, 2, 19.7), (0.04, 0.82, 17.2), (1.24, 2.0, 17.2)], [(1.05, 19.7), (0.46, 17.2), (1.53, 17.2)],
             [("instantaneous firing", 519, 520), ("frequency (spikes s⁻¹)", 533.5, 520)],
             [("(h2)", 516.7, 455, 12, "center", "italic"), (H_GROUPS[1], 511.7, 598, 10, "left"),
              (H_GROUPS[2], 588.3, 598, 10, "left")],
             [(503, 595, 509, 601, "#111", "#111"), (579.5, 595, 585.5, 601, "#ffffff", "#333")])

row1 = alt.hconcat(A, B, C, spacing=0, bounds="flush")
row2 = alt.hconcat(D, E, F, spacing=0, bounds="flush")
row3 = alt.hconcat(G, H1, H2, spacing=0, bounds="flush")

chart = alt.vconcat(row1, row2, row3, spacing=4, padding=0).configure_view(stroke="transparent")

chart.save("out.html", embed_options={"renderer": "svg", "actions": False})
